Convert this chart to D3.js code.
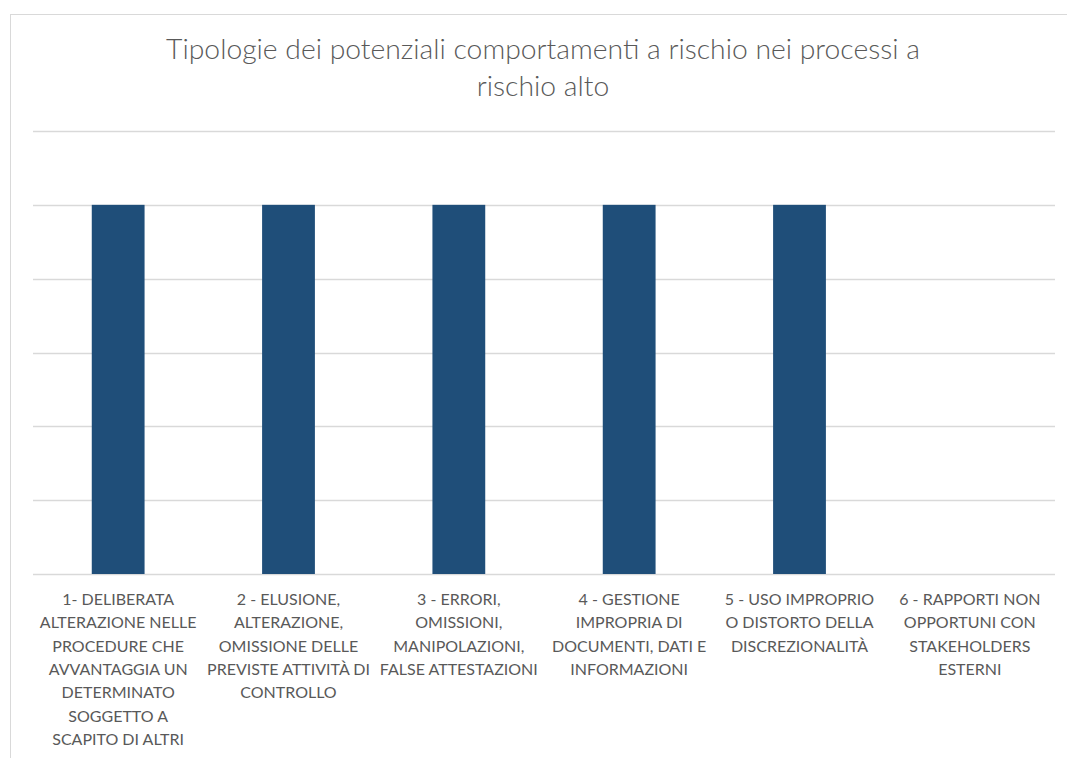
<!DOCTYPE html>
<html>
<head>
<meta charset="utf-8">
<script src="https://cdn.jsdelivr.net/npm/d3@7"></script>
<style>
  body { margin: 0; background: #fff; }
  svg { display: block; }
</style>
</head>
<body>
<svg id="chart" width="1067" height="758"></svg>
<script>
// data
var categories = [
  '1- DELIBERATA\nALTERAZIONE NELLE\nPROCEDURE CHE\nAVVANTAGGIA UN\nDETERMINATO\nSOGGETTO A\nSCAPITO DI ALTRI',
  '2 - ELUSIONE,\nALTERAZIONE,\nOMISSIONE DELLE\nPREVISTE ATTIVITÀ DI\nCONTROLLO',
  '3 - ERRORI,\nOMISSIONI,\nMANIPOLAZIONI,\nFALSE ATTESTAZIONI',
  '4 - GESTIONE\nIMPROPRIA DI\nDOCUMENTI, DATI E\nINFORMAZIONI',
  '5 - USO IMPROPRIO\nO DISTORTO DELLA\nDISCREZIONALITÀ',
  '6 - RAPPORTI NON\nOPPORTUNI CON\nSTAKEHOLDERS\nESTERNI'
];
var values = [1, 1, 1, 1, 1, 0];
var yTicks = [0, 0.2, 0.4, 0.6, 0.8, 1, 1.2];
var titleLines = ['Tipologie dei potenziali comportamenti a rischio nei processi a', 'rischio alto'];

var svg = d3.select('#chart');
var margin = { left: 33, right: 12, top: 131, bottom: 184 };
var W = 1067, H = 758;

// chart frame
svg.append('rect')
  .attr('x', 10.5).attr('y', 14.5)
  .attr('width', 1100).attr('height', 800)
  .attr('fill', '#fff')
  .attr('stroke', '#d9d9d9')
  .attr('stroke-width', 1);

var x = d3.scaleBand()
  .domain(d3.range(categories.length))
  .range([margin.left, W - margin.right])
  .paddingInner(0.69)
  .paddingOuter(0.345);

var y = d3.scaleLinear()
  .domain([0, 1.2])
  .range([H - margin.bottom, margin.top]);

// gridlines
svg.append('g')
  .selectAll('line')
  .data(yTicks)
  .join('line')
  .attr('x1', margin.left)
  .attr('x2', W - margin.right)
  .attr('y1', function (d) { return Math.round(y(d)) + 0.5; })
  .attr('y2', function (d) { return Math.round(y(d)) + 0.5; })
  .attr('stroke', '#d9d9d9')
  .attr('stroke-width', 1.3);

// bars
svg.append('g')
  .selectAll('rect')
  .data(values)
  .join('rect')
  .attr('x', function (d, i) { return x(i); })
  .attr('y', function (d) { return y(d); })
  .attr('width', x.bandwidth())
  .attr('height', function (d) { return y(0) - y(d); })
  .attr('fill', '#1f4e79');

// category labels
var labels = svg.append('g')
  .selectAll('text')
  .data(categories)
  .join('text')
  .attr('text-anchor', 'middle')
  .attr('font-family', 'Lato, sans-serif')
  .attr('font-size', 16)
  .attr('fill', '#595959')
  .attr('x', function (d, i) { return x(i) + x.bandwidth() / 2; })
  .attr('y', y(0) + 31);

labels.selectAll('tspan')
  .data(function (d, i) {
    return d.split('\n').map(function (s) { return { s: s, i: i }; });
  })
  .join('tspan')
  .attr('x', function (d) { return x(d.i) + x.bandwidth() / 2; })
  .attr('dy', function (d, j) { return j === 0 ? 0 : 23.3; })
  .text(function (d) { return d.s; });

// title
svg.append('text')
  .attr('text-anchor', 'middle')
  .attr('font-family', 'Lato, sans-serif')
  .attr('font-weight', 300)
  .attr('font-size', 28.3)
  .attr('fill', '#595959')
  .attr('y', 59)
  .selectAll('tspan')
  .data(titleLines)
  .join('tspan')
  .attr('x', 543)
  .attr('dy', function (d, i) { return i === 0 ? 0 : 37; })
  .text(function (d) { return d; });
</script>
</body>
</html>
